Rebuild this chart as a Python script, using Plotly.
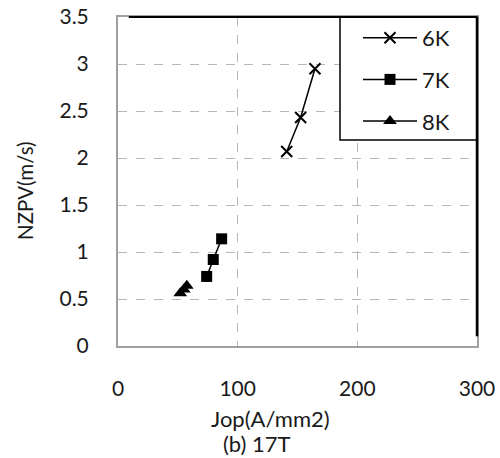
import plotly.graph_objects as go

# Data
jop_6k = [141, 152.6, 164.6]
nzpv_6k = [2.07, 2.43, 2.95]
jop_7k = [74.1, 79.6, 86.6]
nzpv_7k = [0.74, 0.92, 1.14]
jop_8k = [52, 55, 57.5]
nzpv_8k = [0.56, 0.60, 0.64]

x_ticks = [0, 100, 200, 300]
y_ticks = [0, 0.5, 1, 1.5, 2, 2.5, 3, 3.5]
y_tick_text = ["0", "0.5", "1", "1.5", "2", "2.5", "3", "3.5"]

FONT = "Lato"
TXT = "#1a1a1a"

W, H = 500, 458
L, R, T, B = 118, 23, 17, 112
PW, PH = W - L - R, H - T - B


def px(x):
    return (x - L) / PW


def py(y):
    return (H - B - y) / PH


fig = go.Figure()
series = [
    ("6K", jop_6k, nzpv_6k, "x-thin-open", 11, 2),
    ("7K", jop_7k, nzpv_7k, "square", 11, 0),
    ("8K", jop_8k, nzpv_8k, "triangle-up", 12, 0),
]
for name, xs, ys, sym, sz, lw in series:
    fig.add_trace(go.Scatter(
        x=xs, y=ys, name=name, mode="lines+markers",
        line=dict(color="black", width=1.5),
        marker=dict(symbol=sym, size=sz, color="black",
                    line=dict(color="black", width=lw)),
        legendgroup=name,
    ))

fig.update_layout(
    width=W, height=H,
    margin=dict(l=L, r=R, t=T, b=B),
    paper_bgcolor="white", plot_bgcolor="white",
    font=dict(family=FONT, size=21, color=TXT),
    showlegend=True,
    legend=dict(
        x=px(358), y=1, xanchor="left", yanchor="top",
        borderwidth=0, bgcolor="rgba(0,0,0,0)",
        font=dict(family=FONT, size=22, color=TXT),
        tracegroupgap=10, traceorder="grouped",
        itemwidth=54,
    ),
    xaxis=dict(
        range=[0, 300], tickvals=x_ticks, ticks="", automargin=False,
        showline=True, linecolor="#a0a0a0", linewidth=2, mirror=True,
        showgrid=True, gridcolor="#b8b8b8", griddash="dash", gridwidth=1,
        zeroline=False, ticklabelstandoff=23, ticklabeloverflow="allow",
        tickfont=dict(family=FONT, size=21, color=TXT),
    ),
    yaxis=dict(
        range=[0, 3.5], tickvals=y_ticks, ticktext=y_tick_text, ticks="",
        automargin=False,
        showline=True, linecolor="#a0a0a0", linewidth=2, mirror=True,
        showgrid=True, gridcolor="#b8b8b8", griddash="dash", gridwidth=1,
        zeroline=False, ticklabelstandoff=23, ticklabeloverflow="allow",
        tickfont=dict(family=FONT, size=21, color=TXT),
    ),
)

# legend box
fig.add_shape(type="rect", xref="paper", yref="paper",
              x0=px(340), x1=1, y0=py(140), y1=1,
              line=dict(color="black", width=1.5), fillcolor="white", layer="above")
# dark top/right frame edges
fig.add_shape(type="line", xref="x domain", yref="y domain", x0=0.03, x1=1, y0=1, y1=1,
              line=dict(color="black", width=2))
fig.add_shape(type="line", xref="x domain", yref="y domain", x0=1, x1=1, y0=0.03, y1=1,
              line=dict(color="black", width=2.5))

fig.add_annotation(text="NZPV(m/s)", xref="paper", yref="paper", x=px(25), y=py(191),
                   textangle=-90, showarrow=False, xanchor="center", yanchor="middle",
                   font=dict(family=FONT, size=20.5, color=TXT))
fig.add_annotation(text="Jop(A/mm2)", xref="paper", yref="paper", x=px(270), y=py(418),
                   showarrow=False, xanchor="center", yanchor="middle",
                   font=dict(family=FONT, size=22, color=TXT))
fig.add_annotation(text="(b) 17T", xref="paper", yref="paper", x=px(257), y=py(443),
                   showarrow=False, xanchor="center", yanchor="middle",
                   font=dict(family=FONT, size=22, color=TXT))

fig.write_html("out.html",
               config={"displayModeBar": False},
               post_script="document.body.style.margin='0';document.body.style.overflow='hidden';")
